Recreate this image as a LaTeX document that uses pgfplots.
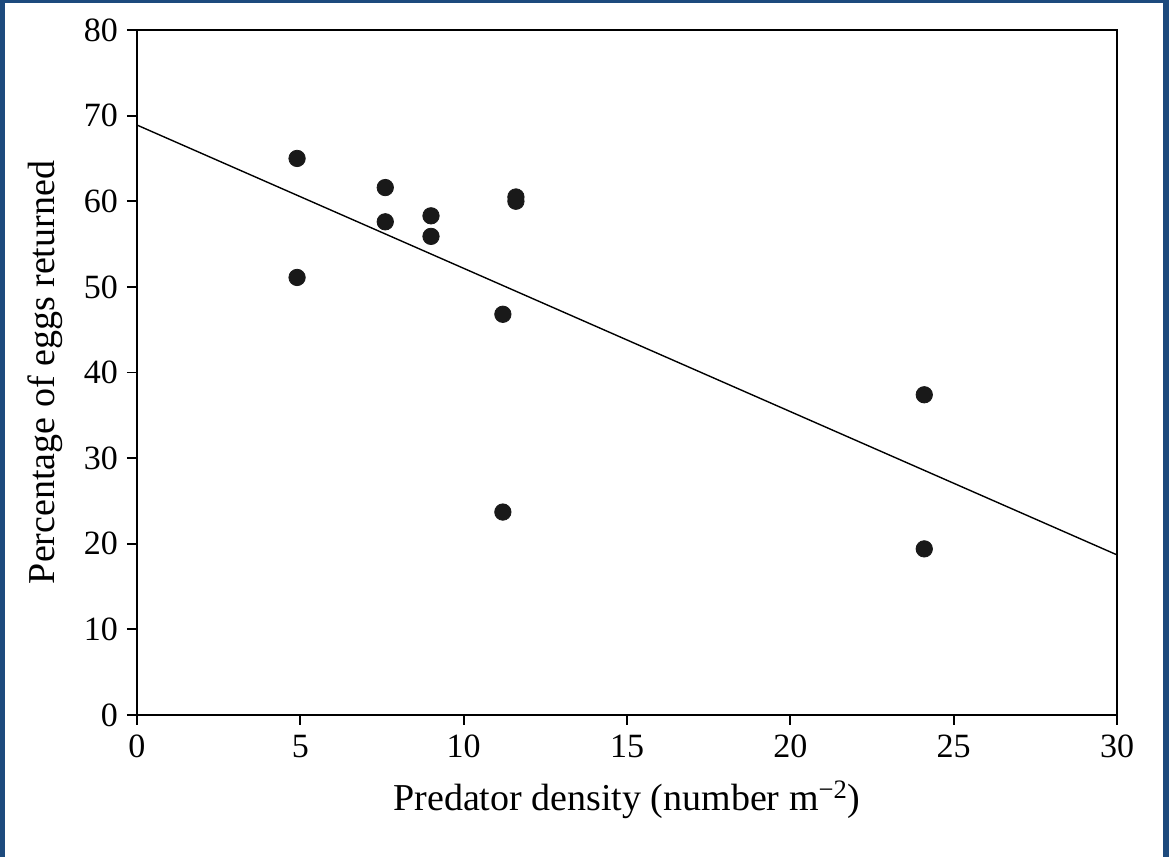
\documentclass[border=0pt]{standalone}
\usepackage{fontspec}
\setmainfont{Liberation Serif}
\usepackage{pgfplots}
\pgfplotsset{compat=1.18}
\definecolor{frameblue}{HTML}{1D4A7D}

\begin{document}
\begin{tikzpicture}[x=0.5pt,y=0.5pt]
  % page = 1169 x 857 px at 0.5pt per px
  \fill[frameblue] (0,0) rectangle (1169,857);
  \fill[white] (5,0) rectangle (1163,854);
  \useasboundingbox (0,0) rectangle (1169,857);
\begin{axis}[
  at={(68.5pt,71pt)}, anchor=south west,
  scale only axis,
  width=490pt, height=342.5pt,
  xmin=0, xmax=30, ymin=0, ymax=80,
  xtick={0,5,...,30}, ytick={0,10,...,80},
  axis x line*=bottom, axis y line*=left,
  axis line style={line width=0.9pt, -},
  tick align=outside, major tick length=5pt,
  tick style={line width=0.9pt, black},
  /pgf/number format/assume math mode=true,
  ticklabel style={font=\fontsize{17}{19}\selectfont},
  xticklabel style={yshift=-1.5pt},
  yticklabel style={xshift=-1pt},
  label style={font=\fontsize{19}{22}\selectfont},
  xlabel={Predator density (number m\textsuperscript{−2})},
  ylabel={Percentage of eggs returned},
  xlabel style={at={(axis description cs:0.5,-0.124)}, anchor=center},
  ylabel style={at={(axis description cs:-0.094,0.5)}, anchor=center},
  clip=false,
]
  % observations
  \addplot[only marks, mark=*, mark size=4.1pt, color=black!90]
    coordinates{
      (4.9,65.0)(4.9,51.1)(7.6,61.6)(7.6,57.6)
      (9.0,58.3)(9.0,55.9)(11.6,60.5)(11.6,60.0)
      (11.2,46.8)(11.2,23.7)(24.1,37.4)(24.1,19.4)
    };
  % fitted regression line
  \addplot[black, line width=0.7pt] coordinates{(0,68.9)(30,18.7)};
  % right and top frame lines
  \draw[line width=0.9pt] (axis cs:0,80) -- (axis cs:30,80) -- (axis cs:30,0);
\end{axis}
\end{tikzpicture}
\end{document}
